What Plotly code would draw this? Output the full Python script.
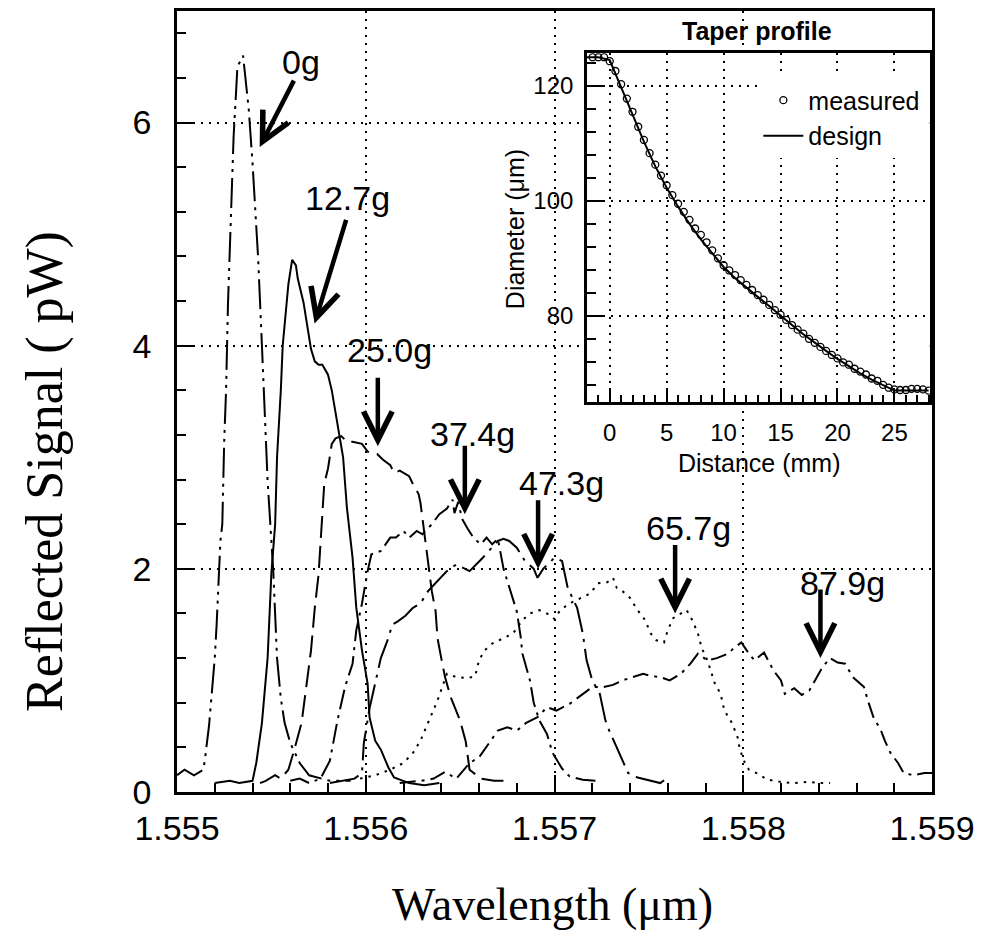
#%% Import
import plotly.graph_objects as go

#%% Data - reflected spectra (wavelength in um, signal in pW)
wl_0g = [1.55500, 1.55504, 1.55509, 1.55514, 1.55515, 1.55517, 1.55520, 1.55521, 1.55523, 1.55524,
         1.55525, 1.55526, 1.55527, 1.55528, 1.55529, 1.55530, 1.55531, 1.55532, 1.55535, 1.55536,
         1.55538, 1.55540, 1.55543, 1.55545, 1.55546, 1.55548, 1.55551, 1.55553, 1.55555, 1.55557,
         1.55560, 1.55565, 1.55570, 1.55581, 1.55592]
sig_0g = [0.15, 0.2, 0.15, 0.2, 0.32, 0.6, 1.2, 1.5, 2.25, 2.4,
          3.14, 3.6, 4.37, 4.9, 5.26, 5.88, 6.18, 6.5, 6.6, 6.45,
          6.12, 5.64, 4.78, 4.0, 3.56, 2.79, 1.98, 1.2, 0.84, 0.62,
          0.44, 0.26, 0.15, 0.1, 0.1]

wl_12g = [1.55520, 1.55528, 1.55533, 1.55540, 1.55542, 1.55545, 1.55548, 1.55550, 1.55552, 1.55553,
          1.55555, 1.55556, 1.55559, 1.55561, 1.55563, 1.55564, 1.55567, 1.55569, 1.55570, 1.55571,
          1.55573, 1.55575, 1.55577, 1.55580, 1.55582, 1.55585, 1.55588, 1.55590, 1.55593, 1.55595,
          1.55598, 1.55601, 1.55602, 1.55605, 1.55608, 1.55612, 1.55615, 1.55623, 1.55631, 1.55639]
sig_12g = [0.08, 0.1, 0.08, 0.1, 0.26, 0.62, 1.2, 1.96, 2.4, 3.0,
           3.6, 4.0, 4.55, 4.77, 4.72, 4.6, 4.39, 4.19, 4.1, 3.97,
           3.86, 3.83, 3.83, 3.74, 3.6, 3.29, 3.0, 2.55, 2.1, 1.65,
           1.27, 0.97, 0.67, 0.46, 0.38, 0.22, 0.13, 0.08, 0.06, 0.08]

wl_25g = [1.55544, 1.55547, 1.55552, 1.55555, 1.55559, 1.55562, 1.55566, 1.55569, 1.55571, 1.55573,
          1.55575, 1.55576, 1.55577, 1.55578, 1.55580, 1.55582, 1.55584, 1.55587, 1.55590, 1.55593,
          1.55598, 1.55601, 1.55606, 1.55609, 1.55613, 1.55615, 1.55618, 1.55621, 1.55623, 1.55625,
          1.55628, 1.55629, 1.55631, 1.55633, 1.55635, 1.55637, 1.55638, 1.55640, 1.55642, 1.55645,
          1.55650, 1.55653, 1.55655, 1.55661, 1.55668, 1.55676]
sig_25g = [0.08, 0.1, 0.15, 0.12, 0.2, 0.37, 0.62, 1.0, 1.27, 1.65,
           1.95, 2.22, 2.55, 2.76, 2.9, 3.12, 3.17, 3.19, 3.14, 3.14,
           3.12, 3.05, 3.03, 2.98, 2.93, 2.86, 2.88, 2.85, 2.83, 2.76,
           2.67, 2.59, 2.34, 2.1, 1.8, 1.62, 1.38, 1.2, 1.03, 0.85,
           0.64, 0.45, 0.2, 0.12, 0.1, 0.1]

wl_37g = [1.55560, 1.55565, 1.55570, 1.55576, 1.55581, 1.55585, 1.55589, 1.55593, 1.55595, 1.55598,
          1.55601, 1.55603, 1.55608, 1.55613, 1.55616, 1.55620, 1.55623, 1.55627, 1.55630, 1.55635,
          1.55639, 1.55643, 1.55646, 1.55647, 1.55649, 1.55651, 1.55654, 1.55657, 1.55661, 1.55664,
          1.55667, 1.55670, 1.55673, 1.55676, 1.55680, 1.55682, 1.55683, 1.55687, 1.55689, 1.55692,
          1.55696, 1.55699, 1.55704, 1.55708, 1.55715, 1.55722]
sig_37g = [0.1, 0.12, 0.08, 0.12, 0.28, 0.64, 0.94, 1.15, 1.45, 1.69,
           1.98, 2.13, 2.16, 2.28, 2.28, 2.34, 2.28, 2.34, 2.31, 2.4,
           2.49, 2.54, 2.62, 2.5, 2.6, 2.45, 2.36, 2.28, 2.22, 2.28,
           2.22, 2.27, 2.0, 1.83, 1.62, 1.4, 1.24, 1.0, 0.8, 0.64,
           0.52, 0.35, 0.21, 0.14, 0.11, 0.1]

wl_47g = [1.55581, 1.55587, 1.55594, 1.55598, 1.55599, 1.55602, 1.55605, 1.55608, 1.55612, 1.55614,
          1.55617, 1.55621, 1.55625, 1.55629, 1.55633, 1.55638, 1.55643, 1.55648, 1.55655, 1.55662,
          1.55667, 1.55670, 1.55673, 1.55676, 1.55680, 1.55684, 1.55689, 1.55691, 1.55694, 1.55698,
          1.55700, 1.55704, 1.55707, 1.55712, 1.55715, 1.55717, 1.55720, 1.55724, 1.55727, 1.55729,
          1.55732, 1.55736, 1.55739, 1.55744, 1.55751, 1.55756, 1.55760]
sig_47g = [0.08, 0.1, 0.12, 0.17, 0.44, 0.75, 0.97, 1.2, 1.38, 1.5,
           1.53, 1.58, 1.65, 1.69, 1.8, 1.89, 1.98, 2.04, 1.98, 2.1,
           2.19, 2.25, 2.27, 2.25, 2.19, 2.08, 2.0, 1.92, 2.0, 2.07,
           2.1, 2.07, 1.83, 1.65, 1.42, 1.18, 1.0, 0.88, 0.64, 0.55,
           0.44, 0.29, 0.17, 0.13, 0.1, 0.08, 0.13]

wl_65g = [1.55597, 1.55605, 1.55613, 1.55620, 1.55625, 1.55629, 1.55632, 1.55635, 1.55638, 1.55643,
          1.55648, 1.55654, 1.55658, 1.55660, 1.55663, 1.55667, 1.55673, 1.55678, 1.55683, 1.55687,
          1.55692, 1.55696, 1.55700, 1.55703, 1.55708, 1.55714, 1.55719, 1.55723, 1.55728, 1.55731,
          1.55733, 1.55736, 1.55740, 1.55744, 1.55748, 1.55751, 1.55754, 1.55758, 1.55760, 1.55763,
          1.55767, 1.55770, 1.55773, 1.55776, 1.55778, 1.55781, 1.55785, 1.55788, 1.55790, 1.55794,
          1.55797, 1.55798, 1.55800, 1.55803, 1.55807, 1.55813, 1.55820, 1.55827, 1.55834, 1.55841,
          1.55846]
sig_65g = [0.12, 0.15, 0.2, 0.26, 0.35, 0.46, 0.58, 0.7, 0.82, 1.06,
           1.03, 1.02, 1.04, 1.18, 1.27, 1.33, 1.38, 1.42, 1.54, 1.6,
           1.63, 1.6, 1.55, 1.63, 1.69, 1.74, 1.78, 1.87, 1.88, 1.92,
           1.83, 1.8, 1.74, 1.63, 1.54, 1.42, 1.36, 1.34, 1.45, 1.56,
           1.6, 1.63, 1.54, 1.42, 1.29, 1.18, 0.97, 0.88, 0.73, 0.62,
           0.49, 0.4, 0.29, 0.2, 0.17, 0.11, 0.09, 0.08, 0.09, 0.08,
           0.08]

wl_87g = [1.55618, 1.55629, 1.55636, 1.55642, 1.55648, 1.55655, 1.55660, 1.55666, 1.55670, 1.55675,
          1.55680, 1.55685, 1.55691, 1.55696, 1.55701, 1.55708, 1.55715, 1.55720, 1.55726, 1.55731,
          1.55736, 1.55742, 1.55747, 1.55751, 1.55756, 1.55761, 1.55767, 1.55772, 1.55776, 1.55781,
          1.55786, 1.55792, 1.55795, 1.55799, 1.55803, 1.55806, 1.55811, 1.55816, 1.55820, 1.55822,
          1.55827, 1.55831, 1.55835, 1.55838, 1.55842, 1.55844, 1.55846, 1.55850, 1.55854, 1.55858,
          1.55864, 1.55866, 1.55869, 1.55873, 1.55875, 1.55878, 1.55882, 1.55885, 1.55890, 1.55896,
          1.55900]
sig_87g = [0.08, 0.1, 0.12, 0.18, 0.12, 0.26, 0.31, 0.46, 0.55, 0.58,
           0.55, 0.62, 0.67, 0.76, 0.73, 0.79, 0.88, 0.94, 0.94, 0.96,
           1.0, 1.03, 1.06, 1.04, 1.03, 1.0, 1.06, 1.15, 1.24, 1.18,
           1.2, 1.24, 1.29, 1.34, 1.24, 1.18, 1.25, 1.09, 1.0, 0.88,
           0.93, 0.87, 0.91, 1.0, 1.12, 1.16, 1.2, 1.16, 1.15, 1.03,
           0.94, 0.82, 0.67, 0.55, 0.46, 0.35, 0.26, 0.17, 0.15, 0.17,
           0.17]

# load labels, arrow tip and text position
load_labels = ['0g', '12.7g', '25.0g', '37.4g', '47.3g', '65.7g', '87.9g']
tip_wl = [1.555438, 1.555729, 1.556064, 1.556525, 1.556913, 1.557639, 1.558409]
tip_sig = [5.78, 4.20, 3.10, 2.49, 2.00, 1.60, 1.20]
label_wl = [1.555655, 1.555905, 1.556127, 1.556568, 1.557035, 1.557708, 1.558525]
label_sig = [6.54, 5.32, 3.96, 3.21, 2.77, 2.37, 1.87]

#%% Data - taper profile inset
dist_meas = [-1.5, -1.0, -0.5, 0.0, 0.5, 1.0, 1.5, 2.0, 2.5, 3.0,
             3.5, 4.0, 4.5, 5.0, 5.5, 6.0, 6.5, 7.0, 7.5, 8.0,
             8.5, 9.0, 9.5, 10.0, 10.5, 11.0, 11.5, 12.0, 12.5, 13.0,
             13.5, 14.0, 14.5, 15.0, 15.5, 16.0, 16.5, 17.0, 17.5, 18.0,
             18.5, 19.0, 19.5, 20.0, 20.5, 21.0, 21.5, 22.0, 22.5, 23.0,
             23.5, 24.0, 24.5, 25.0, 25.5, 26.0, 26.5, 27.0, 27.5, 28.0]
diam_meas = [125.0, 125.0, 125.0, 124.3, 122.6, 120.3, 117.8, 115.5, 112.9, 110.6,
             108.3, 106.3, 104.4, 102.7, 101.0, 99.5, 98.1, 96.7, 95.2, 94.1,
             92.8, 91.4, 90.0, 88.8, 87.9, 87.1, 86.2, 85.4, 84.5, 83.6,
             82.8, 81.9, 81.0, 80.2, 79.3, 78.4, 77.6, 76.9, 76.0, 75.3,
             74.6, 73.9, 73.2, 72.6, 71.9, 71.5, 70.8, 70.3, 69.8, 69.1,
             68.7, 68.0, 67.5, 67.2, 67.1, 67.1, 67.3, 67.3, 67.2, 67.0]

dist_design = [-2, -1, 0, 1, 2, 3, 4, 5, 6, 7, 8, 9, 10, 11, 12, 13, 14, 15,
               16, 17, 18, 19, 20, 21, 22, 23, 24, 25, 26, 27, 28]
diam_design = [125.0, 125.0, 124.5, 119.8, 115.0, 110.3, 106.0, 102.3, 99.0, 96.0,
               93.3, 90.8, 88.5, 86.6, 84.9, 83.3, 81.7, 80.0, 78.4, 76.8,
               75.3, 73.9, 72.5, 71.2, 70.0, 68.9, 67.9, 67.0, 67.0, 67.0, 67.0]

#%% Figure
sans = "Liberation Sans, Arial"
serif = "Liberation Serif, Times New Roman"

fig = go.Figure()

spectra = [(wl_0g, sig_0g, '30px,6px,3px,6px,3px,6px'),
           (wl_12g, sig_12g, 'solid'),
           (wl_25g, sig_25g, '22px,8px'),
           (wl_37g, sig_37g, '20px,6px,3px,6px'),
           (wl_47g, sig_47g, '30px,7px,3px,7px'),
           (wl_65g, sig_65g, '2.5px,6px'),
           (wl_87g, sig_87g, '16px,6px,3px,6px')]

for (wl, sig, dash), name in zip(spectra, load_labels):
    fig.add_trace(go.Scatter(x = wl, y = sig, mode = 'lines', name = name,
                             line = dict(color = 'black', width = 2, dash = dash),
                             showlegend = False))

# inset traces
fig.add_trace(go.Scatter(x = dist_meas, y = diam_meas, mode = 'markers', name = 'measured',
                         marker = dict(symbol = 'circle-open', size = 7, color = 'black',
                                       line = dict(width = 1.3)),
                         xaxis = 'x2', yaxis = 'y2'))
fig.add_trace(go.Scatter(x = dist_design, y = diam_design, mode = 'lines', name = 'design',
                         line = dict(color = 'black', width = 2),
                         xaxis = 'x2', yaxis = 'y2'))

grid_dash = '2px,6px'

# the page body has an 8px margin, so the margins are shifted by that amount
fig.update_layout(
    width = 990, height = 944,
    margin = dict(l = 169, r = 66, t = 0, b = 160),
    paper_bgcolor = 'white', plot_bgcolor = 'white',
    font = dict(family = sans, color = 'black', size = 34),
    xaxis = dict(range = [1.555, 1.559], tick0 = 1.555, dtick = 0.001, tickformat = '.3f',
                 ticks = 'inside', ticklen = 17, tickwidth = 2, tickcolor = 'black',
                 ticklabelstandoff = 4,
                 minor = dict(ticks = 'inside', ticklen = 9, dtick = 0.0002, tickwidth = 1.5,
                              tickcolor = 'black', showgrid = False),
                 showline = True, linewidth = 2.5, linecolor = 'black', mirror = True,
                 showgrid = True, gridcolor = 'black', gridwidth = 1.5, griddash = grid_dash,
                 zeroline = False, tickfont = dict(size = 34)),
    yaxis = dict(range = [0, 7], tick0 = 0, dtick = 2,
                 ticks = 'inside', ticklen = 17, tickwidth = 2, tickcolor = 'black',
                 ticklabelstandoff = 16,
                 minor = dict(ticks = 'inside', ticklen = 9, dtick = 0.4, tickwidth = 1.5,
                              tickcolor = 'black', showgrid = False),
                 showline = True, linewidth = 2.5, linecolor = 'black', mirror = True,
                 showgrid = True, gridcolor = 'black', gridwidth = 1.5, griddash = grid_dash,
                 zeroline = False, tickfont = dict(size = 34)),
    xaxis2 = dict(domain = [0.543, 0.997], anchor = 'y2', range = [-2, 28.1],
                  tick0 = 0, dtick = 5, ticks = 'inside', ticklen = 14, tickwidth = 2,
                  tickcolor = 'black', ticklabelstandoff = 8,
                  minor = dict(ticks = 'inside', ticklen = 7, dtick = 1, tickwidth = 1.5,
                               tickcolor = 'black', showgrid = False),
                  showline = True, linewidth = 2.5, linecolor = 'black', mirror = True,
                  showgrid = True, gridcolor = 'black', gridwidth = 1.5, griddash = grid_dash,
                  zeroline = False, tickfont = dict(size = 24)),
    yaxis2 = dict(domain = [0.5, 0.946], anchor = 'x2', range = [65.1, 125.7],
                  tick0 = 0, dtick = 20, ticks = 'inside', ticklen = 18, tickwidth = 2,
                  tickcolor = 'black', ticklabelstandoff = 6,
                  minor = dict(ticks = 'inside', ticklen = 9, dtick = 4, tickwidth = 1.5,
                               tickcolor = 'black', showgrid = False),
                  showline = True, linewidth = 2.5, linecolor = 'black', mirror = True,
                  showgrid = True, gridcolor = 'black', gridwidth = 1.5, griddash = grid_dash,
                  zeroline = False, tickfont = dict(size = 24)),
    legend = dict(x = 0.77, y = 0.915, xanchor = 'left', yanchor = 'top',
                  bgcolor = 'white', borderwidth = 0, font = dict(size = 25, family = sans),
                  itemwidth = 40, tracegroupgap = 0),
    showlegend = True
)

# white backing for the inset so main gridlines do not cross it
fig.add_shape(type = 'rect', xref = 'x2 domain', yref = 'y2 domain',
              x0 = 0, x1 = 1, y0 = 0, y1 = 1, fillcolor = 'white',
              line = dict(width = 0), layer = 'below')

# load labels with arrows
for name, tx, ty, lx, ly in zip(load_labels, tip_wl, tip_sig, label_wl, label_sig):
    fig.add_annotation(x = lx, y = ly, text = name, showarrow = False,
                       xanchor = 'center', yanchor = 'middle',
                       font = dict(size = 34, family = sans))
    # tail offset: slanted arrows for the two first peaks, vertical for the rest
    if name == '0g':
        ax, ay = 35, -68
    elif name == '12.7g':
        ax, ay = 32, -105
    else:
        ax, ay = 0, -70
    fig.add_annotation(x = tx, y = ty, text = '', showarrow = True, ax = ax, ay = ay,
                       arrowhead = 5, arrowsize = 1.25, arrowwidth = 4.5,
                       arrowcolor = 'black', standoff = 0)

# axis titles
fig.add_annotation(xref = 'paper', yref = 'paper', x = -0.175, y = 0.411,
                   xanchor = 'center', yanchor = 'middle',
                   text = 'Reflected Signal ( pW)', textangle = -90, showarrow = False,
                   font = dict(family = serif, size = 52))
fig.add_annotation(xref = 'paper', yref = 'paper', x = 0.498, y = -0.144,
                   xanchor = 'center', yanchor = 'middle',
                   text = 'Wavelength (\u03bcm)', showarrow = False,
                   font = dict(family = serif, size = 46))

# inset titles
fig.add_annotation(xref = 'paper', yref = 'paper', x = 0.768, y = 0.9745,
                   xanchor = 'center', yanchor = 'middle',
                   text = '<b>Taper profile</b>', showarrow = False,
                   font = dict(size = 25, family = sans))
fig.add_annotation(xref = 'paper', yref = 'paper', x = 0.771, y = 0.421,
                   xanchor = 'center', yanchor = 'middle',
                   text = 'Distance (mm)', showarrow = False,
                   font = dict(size = 25, family = sans))
fig.add_annotation(xref = 'paper', yref = 'paper', x = 0.4477, y = 0.7207,
                   xanchor = 'center', yanchor = 'middle',
                   text = 'Diameter (\u03bcm)', textangle = -90, showarrow = False,
                   font = dict(size = 25, family = sans))

fig.write_html("out.html")
